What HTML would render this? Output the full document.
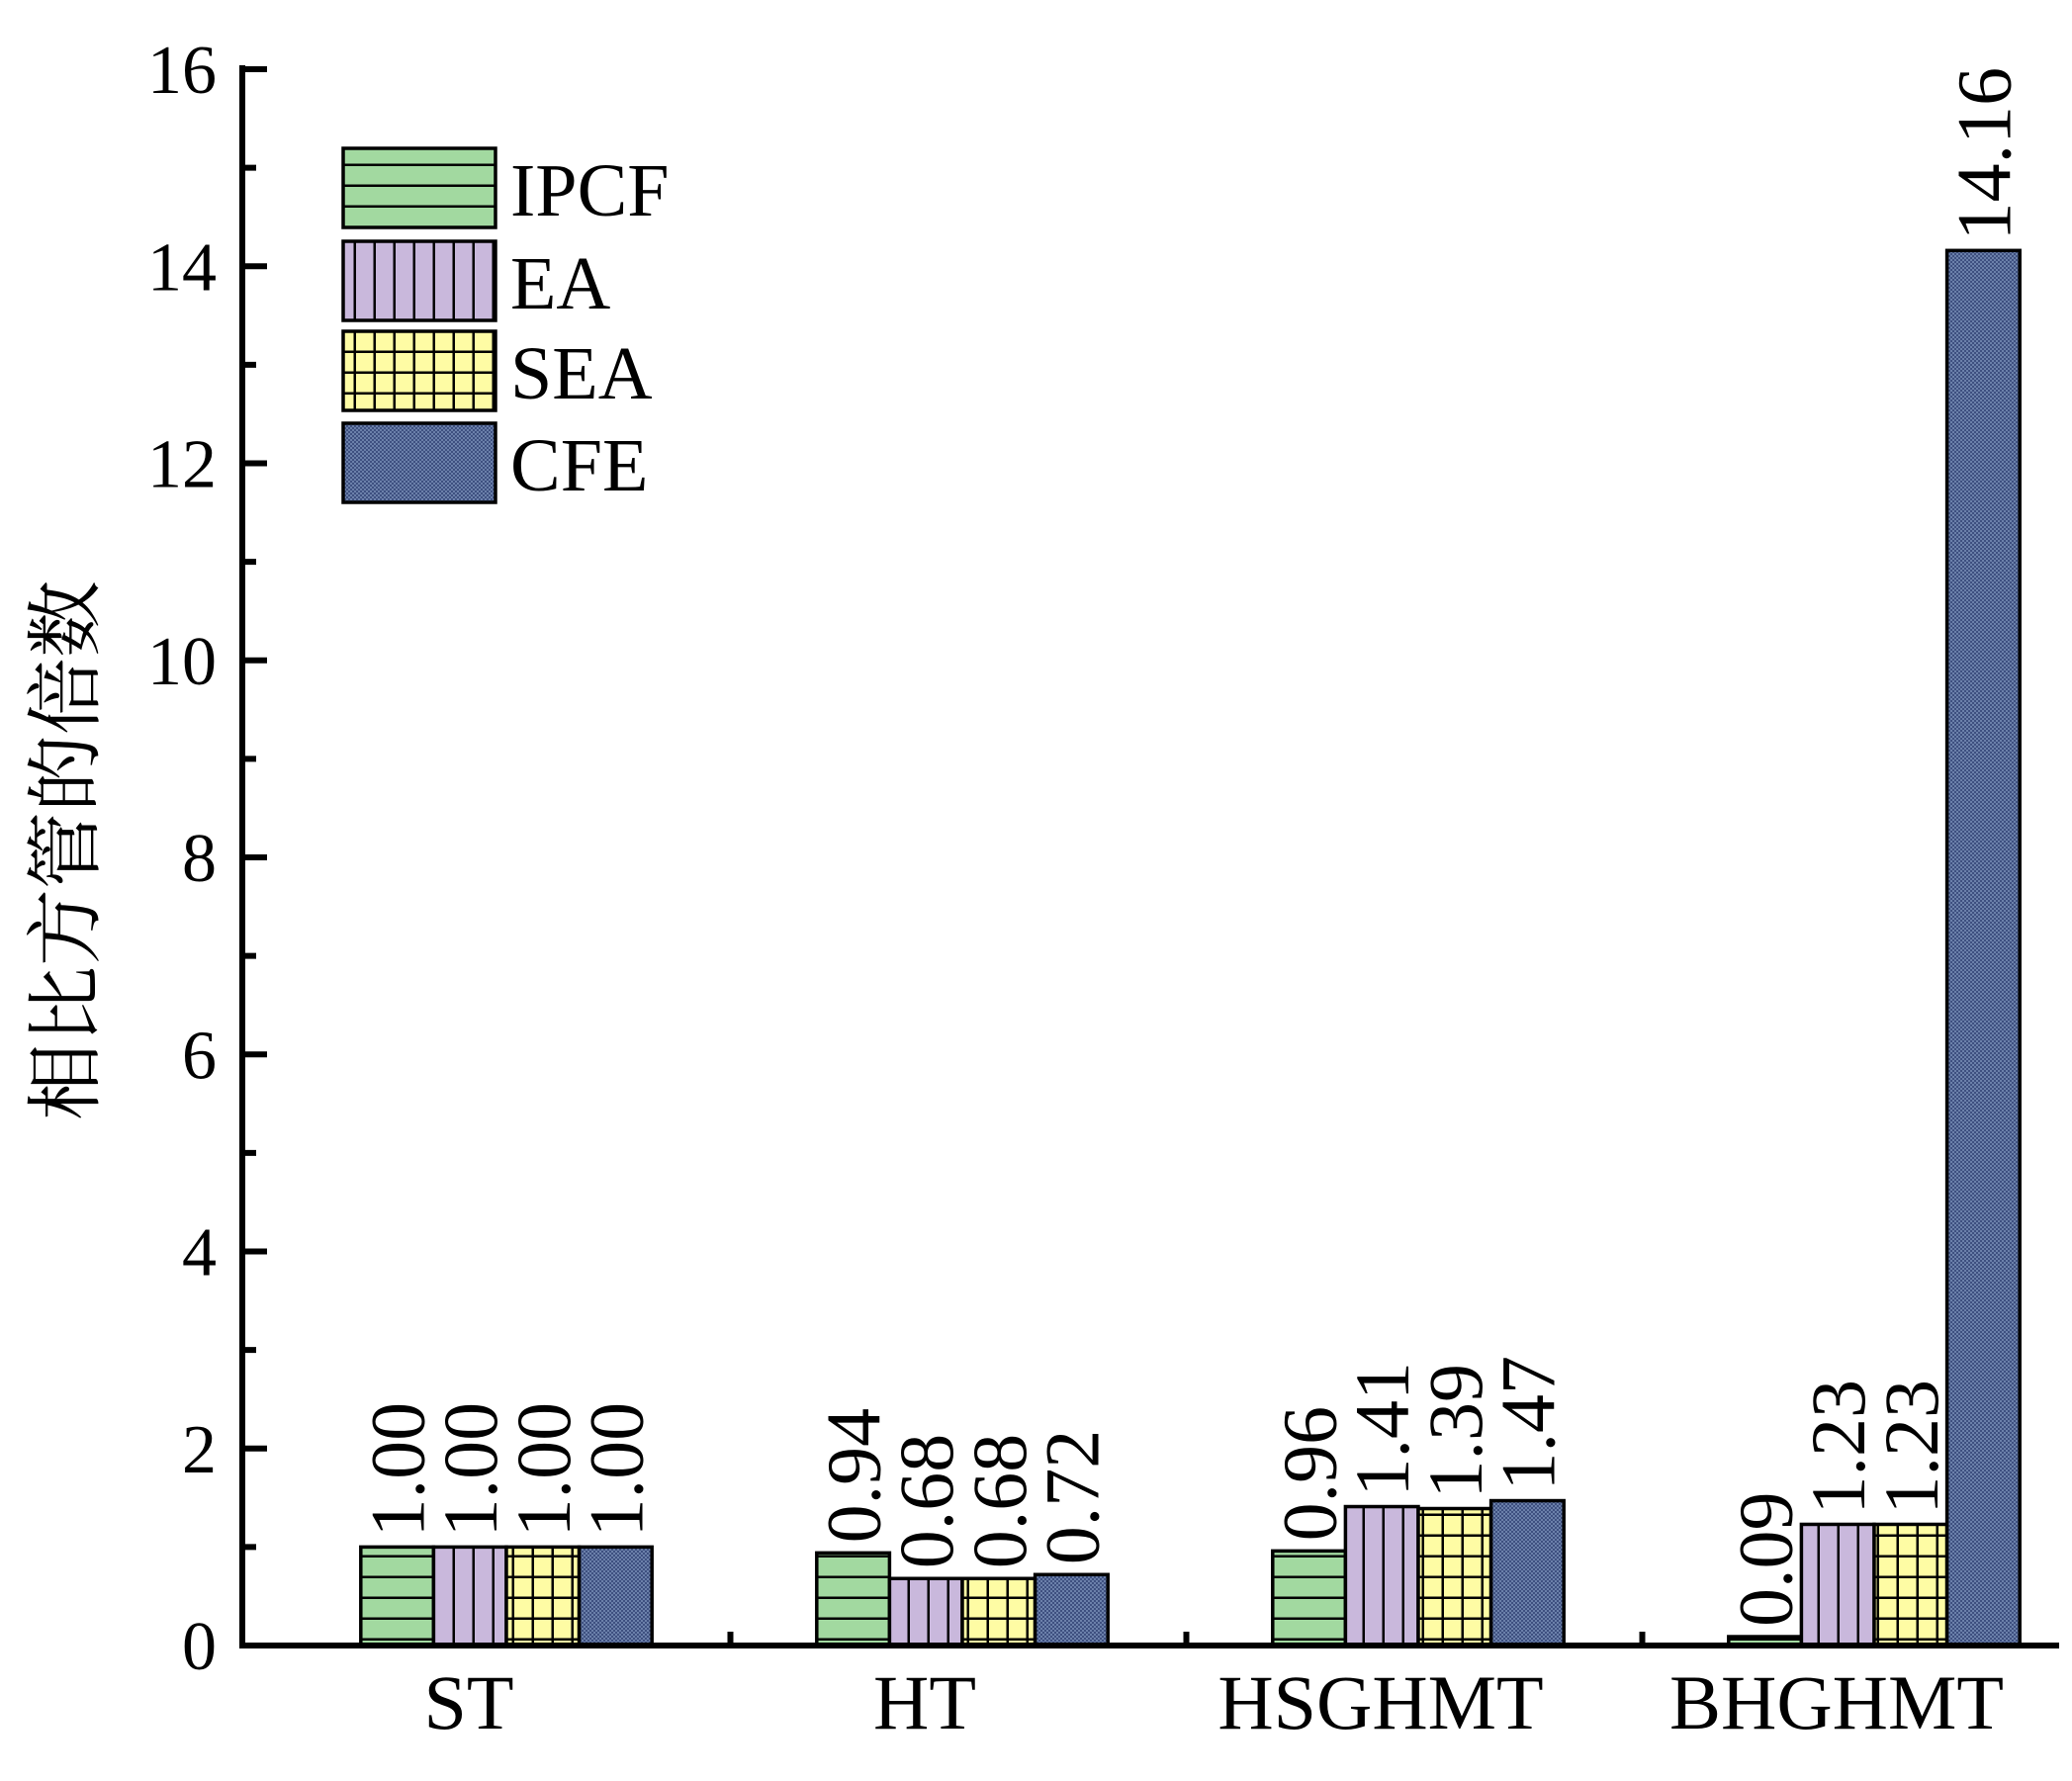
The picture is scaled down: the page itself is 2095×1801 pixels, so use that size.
<!DOCTYPE html>
<html><head><meta charset="utf-8"><style>
html,body{margin:0;padding:0;background:#fff;}
svg{display:block;}
text{font-family:"Liberation Serif","Noto Serif CJK SC",serif;fill:#000;}
</style></head><body>
<svg id="chart" width="2095" height="1801" viewBox="0 0 2095 1801" xmlns="http://www.w3.org/2000/svg">
<defs>
<pattern id="p-hl" patternUnits="userSpaceOnUse" width="20" height="21"><rect width="20" height="21" fill="#a2d9a0"/><line x1="0" y1="20" x2="20" y2="20" stroke="#000" stroke-width="3"/></pattern>
<pattern id="p-vl" patternUnits="userSpaceOnUse" width="20" height="20"><rect width="20" height="20" fill="#c9b8dc"/><line x1="19" y1="0" x2="19" y2="20" stroke="#000" stroke-width="3"/></pattern>
<pattern id="p-grid" patternUnits="userSpaceOnUse" width="20" height="21"><rect width="20" height="21" fill="#fefca4"/><line x1="19" y1="0" x2="19" y2="21" stroke="#000" stroke-width="3"/><line x1="0" y1="20" x2="20" y2="20" stroke="#000" stroke-width="3"/></pattern>
<pattern id="p-dot" patternUnits="userSpaceOnUse" width="4" height="4"><rect width="4" height="4" fill="#6b80aa"/><rect width="2" height="2" fill="#3e5080"/><rect x="2" y="2" width="2" height="2" fill="#3e5080"/></pattern>
</defs>
</svg>
<script>
const categories = ["ST","HT","HSGHMT","BHGHMT"];
const seriesNames = ["IPCF","EA","SEA","CFE"];
const ipcf = [1.00,0.94,0.96,0.09];
const ea = [1.00,0.68,1.41,1.23];
const sea = [1.00,0.68,1.39,1.23];
const cfe = [1.00,0.72,1.47,14.16];
const yTicks = [0,2,4,6,8,10,12,14,16];

const NS="http://www.w3.org/2000/svg";
const svg=document.getElementById('chart');
const X0=245, X1=2082, Y0=1664, Y16=70;
const yScale=v=>Y0-(v/16)*(Y0-Y16);
const catCenter=i=>512+i*461;
const barW=73.6;
const fills=["url(#p-hl)","url(#p-vl)","url(#p-grid)","url(#p-dot)"];
const series=[ipcf,ea,sea,cfe];
function mk(tag,attrs,txt){const e=document.createElementNS(NS,tag);for(const k in attrs)e.setAttribute(k,attrs[k]);if(txt!==undefined)e.textContent=txt;svg.appendChild(e);return e;}

series.forEach((vals,s)=>{
  vals.forEach((v,i)=>{
    const x=catCenter(i)-2*barW+s*barW;
    const y=yScale(v);
    const r=mk('rect',{x:x,y:y,width:barW,height:Y0-y,fill:fills[s],stroke:'#000','stroke-width':3.5});
    
    
    const cx=x+barW/2+27, ty=y-10;
    const t=mk('text',{x:cx,y:ty,'font-size':78,transform:`rotate(-90 ${cx} ${ty})`},v.toFixed(2));
    
    
  });
});
const ya=mk('line',{x1:X0,y1:Y16-4,x2:X0,y2:Y0+3,stroke:'#000','stroke-width':6});


const xa=mk('line',{x1:X0-3,y1:Y0,x2:X1,y2:Y0,stroke:'#000','stroke-width':6});


yTicks.forEach(v=>{
  const y=yScale(v);
  const tk=mk('line',{x1:X0,y1:y,x2:X0+25,y2:y,stroke:'#000','stroke-width':6});
  
  
  if(v<16){const m=yScale(v+1);const mt=mk('line',{x1:X0,y1:m,x2:X0+14,y2:m,stroke:'#000','stroke-width':6});
  
  }
  const lb=mk('text',{x:X0-26,y:y+24,'font-size':70,'text-anchor':'end'},String(v));
  
  
});
categories.forEach((c,i)=>{
  const lb=mk('text',{x:catCenter(i)-38,y:1748,'font-size':78,'text-anchor':'middle'},c);
  
  
  if(i<3){const sx=(catCenter(i)+catCenter(i+1))/2-4;const st=mk('line',{x1:sx,y1:Y0,x2:sx,y2:Y0-14,stroke:'#000','stroke-width':6});
  
  }
});
const yt=mk('text',{x:93,y:860,'font-size':78,'text-anchor':'middle',transform:'rotate(-90 93 860)'},'相比方管的倍数');


const legY=[150,244,335,428];
seriesNames.forEach((n,s)=>{
  const r=mk('rect',{x:347,y:legY[s],width:154,height:80,fill:fills[s],stroke:'#000','stroke-width':3.5});
  
  
  const t=mk('text',{x:516,y:legY[s]+68,'font-size':76},n);
  
  
});
</script>
</body></html>
